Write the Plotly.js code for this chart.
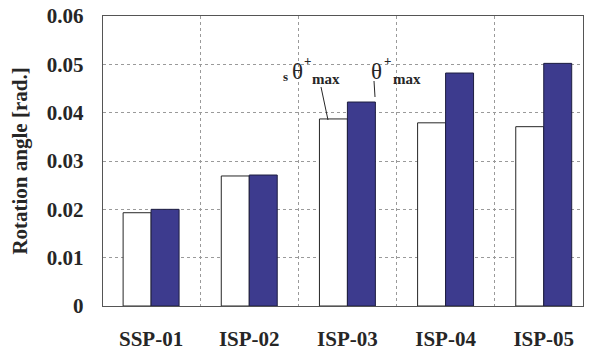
<!DOCTYPE html>
<html><head><meta charset="utf-8">
<script src="https://cdn.plot.ly/plotly-3.0.1.min.js"></script>
<style>body{margin:0;background:#fff}#c{width:594px;height:353px}</style>
</head><body><div id="c"></div>
<script>
const categories = ["SSP-01", "ISP-02", "ISP-03", "ISP-04", "ISP-05"];
const sThetaMax = [0.0193, 0.0269, 0.0387, 0.0379, 0.0371];
const thetaMax = [0.0200, 0.0271, 0.0422, 0.0482, 0.0502];
const yTicks = [0, 0.01, 0.02, 0.03, 0.04, 0.05, 0.06];
const yTickText = ["0", "0.01", "0.02", "0.03", "0.04", "0.05", "0.06"];

const xIdx = categories.map((_, i) => i);
const F = '"Liberation Serif", "Times New Roman", Times, serif';
const INK = "#262626";

const traces = [
  {type: "bar", x: xIdx, y: sThetaMax, name: "sθ+max",
   marker: {color: "#ffffff", line: {color: INK, width: 1}}},
  {type: "bar", x: xIdx, y: thetaMax, name: "θ+max",
   marker: {color: "#3d3b8e", line: {color: "#1e1e40", width: 1}}},
  {type: "scatter", x: [0], y: [0], xaxis: "x2", mode: "markers",
   marker: {opacity: 0}, hoverinfo: "skip"}
];

// helpers to convert reference pixel positions into paper coordinates
const L = 103, R = 583, T = 16, B = 306;
const px = v => (v - L) / (R - L);
const py = v => (B - v) / (B - T);
function lab(text, x, y, size, weight) {
  return {xref: "paper", yref: "paper", x: px(x), y: py(y), text: text,
    showarrow: false, xanchor: "center", yanchor: "middle",
    font: {family: F, size: size, color: INK, weight: weight || "bold"}};
}

const layout = {
  width: 594, height: 353,
  margin: {l: L, r: 594 - R, t: T, b: 353 - B},
  paper_bgcolor: "#fff", plot_bgcolor: "#fff",
  showlegend: false,
  barmode: "group", bargap: 0.43, bargroupgap: 0,
  font: {family: F, color: INK},
  xaxis: {
    range: [-0.49, 4.4], tickvals: xIdx, ticktext: categories,
    showgrid: false, zeroline: false, ticks: "",
    tickfont: {family: F, size: 21, color: INK, weight: "bold"},
    ticklabelstandoff: 14,
    showline: true, mirror: true, linecolor: "#555", linewidth: 1.2
  },
  xaxis2: {
    overlaying: "x", range: [-0.49, 4.4], tickvals: [0.5, 1.5, 2.5, 3.5],
    showticklabels: false, ticks: "", showgrid: true,
    gridcolor: "#9a9a9a", griddash: "dot", gridwidth: 1, zeroline: false
  },
  yaxis: {
    range: [0, 0.06], tickvals: yTicks, ticktext: yTickText,
    showgrid: true, gridcolor: "#9a9a9a", griddash: "dot", gridwidth: 1,
    zeroline: false, ticks: "",
    tickfont: {family: F, size: 21, color: INK, weight: "bold"},
    ticklabelstandoff: 14,
    showline: true, mirror: true, linecolor: "#555", linewidth: 1.2,
    title: {text: "Rotation angle [rad.]", font: {family: F, size: 21, color: INK, weight: "bold"}, standoff: 13}
  },
  annotations: [
    lab("s", 285, 76, 13),
    lab("θ", 297, 71, 23, "normal"),
    lab("+", 307, 61, 13),
    lab("max", 326, 79, 15),
    lab("θ", 376, 71, 23, "normal"),
    lab("+", 387, 61, 13),
    lab("max", 407, 79, 15)
  ],
  shapes: [
    {type: "line", xref: "paper", yref: "paper",
     x0: px(321), y0: py(87), x1: px(328), y1: py(120),
     line: {color: INK, width: 1}},
    {type: "line", xref: "paper", yref: "paper",
     x0: px(374), y0: py(81), x1: px(375), y1: py(97),
     line: {color: INK, width: 1}}
  ]
};

Plotly.newPlot("c", traces, layout, {displayModeBar: false, staticPlot: true});
</script></body></html>
